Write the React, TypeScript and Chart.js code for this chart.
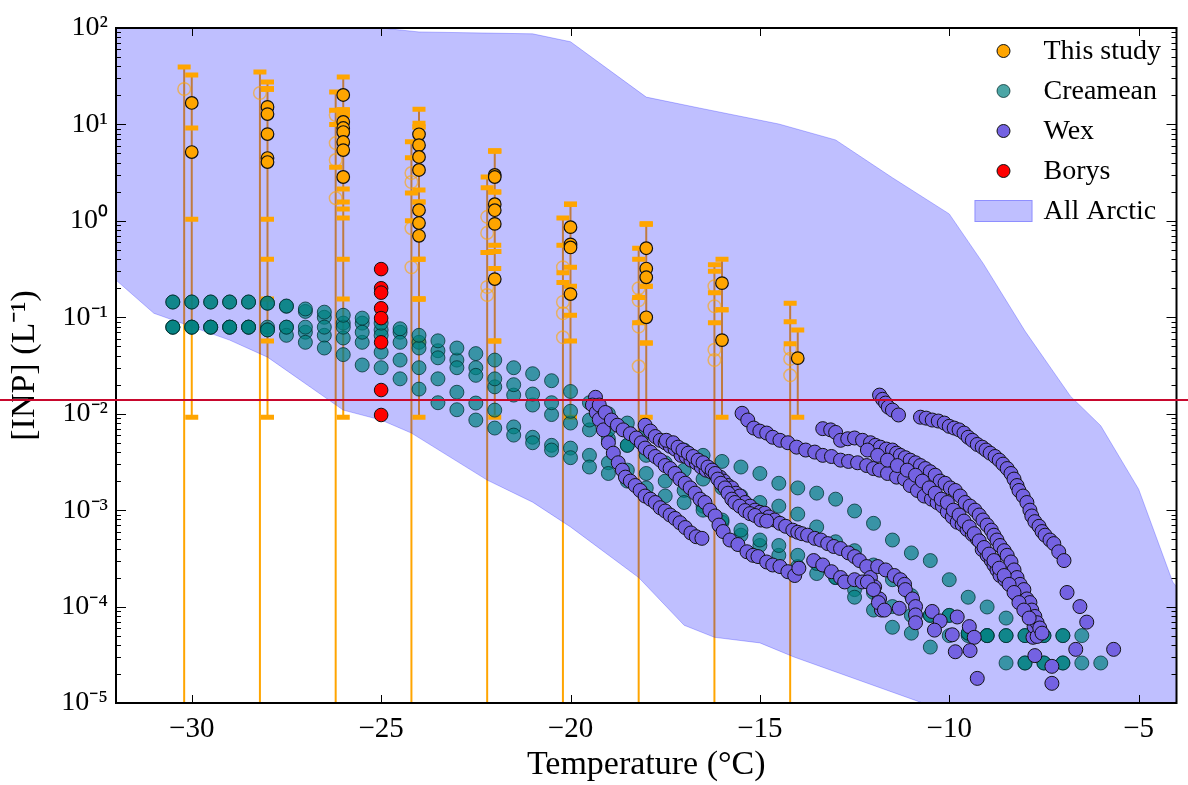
import React, { useEffect, useRef } from 'react';
import { Chart, registerables } from 'chart.js';

Chart.register(...registerables);

// ---------------- axes ----------------
const X_MIN = -32;
const X_MAX = -4;
const Y_MIN = 1e-5;
const Y_MAX = 1e2;
const xTickValues = [-30, -25, -20, -15, -10, -5];
const xTickLabels = ['\u221230', '\u221225', '\u221220', '\u221215', '\u221210', '\u22125'];
const yTickValues = [1e-5, 1e-4, 1e-3, 1e-2, 1e-1, 1, 10, 100];
const yTickLabels = ['10\u207B\u2075', '10\u207B\u2074', '10\u207B\u00B3', '10\u207B\u00B2', '10\u207B\u00B9', '10\u2070', '10\u00B9', '10\u00B2'];
const yMinorMultipliers = [2, 3, 4, 5, 6, 7, 8, 9];
const xTitle = 'Temperature (\u00B0C)';
const yTitle = '[INP] (L\u207B\u00B9)';
const redLineValue = 0.014;
const legendLabels = ['This study', 'Creamean', 'Wex', 'Borys', 'All Arctic'];

// ---------------- All Arctic envelope ----------------
const arcticUpperT = [-32, -25, -24, -21, -20, -18, -16.6, -14.5, -13, -11.5, -10, -9.1, -8, -6.8, -6, -5, -4.1, -4];
const arcticUpperV = [100, 100, 91, 87, 72, 19.2, 14.8, 10.1, 6.9, 2.8, 1.18, 0.36, 0.072, 0.0152, 0.0075, 0.00165, 0.00018, 0.00016];
const arcticLowerT = [-32, -31, -29, -28, -26, -25, -24.2, -22.2, -21, -20, -18.2, -17, -16.2, -15, -14.1, -10.7, -4];
const arcticLowerV = [0.243, 0.11, 0.058, 0.0386, 0.0109, 0.0086, 0.0063, 0.00205, 0.00121, 0.00067, 0.0002, 0.000064, 0.000048, 0.000042, 0.00003, 0.00001, 0.000001];

// ---------------- This study ----------------
const studyT = [-30, -30, -28, -28, -28, -28, -28, -26, -26, -26, -26, -26, -26, -26, -24, -24, -24, -24, -24, -24, -24, -22, -22, -22, -22, -22, -22, -20, -20, -20, -20, -18, -18, -18, -18, -16, -16, -14];
const studyV = [16.7, 5.17, 15.2, 12.8, 7.94, 4.48, 4.07, 20.2, 10.6, 9.18, 8.34, 6.57, 5.42, 2.85, 7.9, 6.1, 4.6, 3.37, 1.29, 0.95, 0.7, 2.99, 2.85, 1.49, 1.29, 0.93, 0.249, 0.86, 0.57, 0.53, 0.174, 0.52, 0.32, 0.26, 0.1, 0.226, 0.058, 0.0377];
const studyLo = [1.04, 0.0092, 1.04, 0.4, 0.155, 0.0566, 0.0092, 2.14, 1.57, 1.33, 1.07, 0.4, 0.155, 0.0092, 0.4, 0.155, 0.0566, 0.0092, 0.4, 0.155, 0.155, 0.56, 0.48, 0.32, 0.0566, 0.0092, 0.0566, 0.33, 0.105, 0.0566, 0.0092, 0.21, 0.054, 0.054, 0.0092, 0.12, 0.0092, 0.0092];
const studyHi = [32.5, 9.18, 27.5, 23.3, 23.3, 23.3, 23.3, 31, 14.1, 12.5, 12.5, 14.1, 12.5, 14.1, 14.4, 10.3, 9.4, 9.4, 2.09, 1.57, 1.57, 5.3, 5.3, 5.3, 1.99, 1.99, 0.48, 1.49, 1.49, 1.49, 0.21, 0.93, 0.93, 0.93, 0.21, 0.4, 0.12, 0.074];

// open symbols (lower error reaches zero)
const hollowT = [-30.2, -28.2, -26.2, -26.2, -26.2, -26.2, -24.2, -24.2, -24.2, -24.2, -22.2, -22.2, -22.2, -22.2, -20.2, -20.2, -20.2, -20.2, -18.2, -18.2, -18.2, -18.2, -16.2, -16.2, -16.2, -16.2, -14.2, -14.2, -14.2];
const hollowV = [23.3, 21.2, 12.5, 6.4, 4.27, 1.72, 3.13, 2.53, 0.84, 0.33, 1.1, 0.75, 0.206, 0.17, 0.33, 0.144, 0.11, 0.062, 0.2, 0.15, 0.08, 0.031, 0.21, 0.13, 0.046, 0.036, 0.047, 0.037, 0.025];
const hollowHi = [39.4, 35, 21.7, 14, 10, 3.6, 6.6, 4.5, 1.94, 1.0, 2.85, 2.2, 0.47, 0.47, 1.07, 0.56, 0.29, 0.23, 0.52, 0.4, 0.16, 0.088, 0.35, 0.3, 0.18, 0.088, 0.14, 0.09, 0.053];
const hollowLo = 1e-9; // effectively zero, below the axis

// ---------------- Borys ----------------
const borysT = [-25, -25, -25, -25, -25, -25, -25, -25];
const borysV = [0.316, 0.2, 0.18, 0.124, 0.098, 0.055, 0.0176, 0.0097];

// ---------------- Creamean ----------------
const creamean1 = [[-30.5, 0.144], [-30, 0.144], [-29.5, 0.144], [-29, 0.144], [-28.5, 0.144], [-28, 0.14], [-27.5, 0.131], [-27, 0.122], [-26.5, 0.113], [-26, 0.105], [-25.5, 0.098], [-25, 0.087], [-24.5, 0.076], [-24, 0.065], [-23.5, 0.057], [-23, 0.048], [-22.5, 0.042], [-22, 0.036], [-21.5, 0.03], [-21, 0.026], [-20.5, 0.022], [-20, 0.017], [-19.5, 0.013], [-19, 0.01], [-18.5, 0.008], [-18, 0.0064], [-17.5, 0.0052], [-17, 0.0042], [-16.5, 0.0037], [-16, 0.0032], [-15.5, 0.0028], [-15, 0.0024], [-14.5, 0.0019], [-14, 0.0017], [-13.5, 0.0015], [-13, 0.0013], [-12.5, 0.00098], [-12, 0.00073], [-11.5, 0.00049], [-11, 0.00036], [-10.5, 0.0003], [-10, 0.00019], [-9.5, 0.000125], [-9, 0.000099], [-8.5, 0.000076], [-8, 0.00005], [-7.5, 0.00005], [-7, 0.00005]];
const creamean2 = [[-30.5, 0.079], [-30, 0.079], [-29.5, 0.079], [-29, 0.079], [-28.5, 0.079], [-28, 0.074], [-27.5, 0.079], [-27, 0.079], [-26.5, 0.079], [-26, 0.079], [-25.5, 0.07], [-25, 0.065], [-24.5, 0.055], [-24, 0.048], [-23.5, 0.038], [-23, 0.03], [-22.5, 0.025], [-22, 0.023], [-21.5, 0.02], [-21, 0.016], [-20.5, 0.013], [-20, 0.0106], [-19.5, 0.0086], [-19, 0.0068], [-18.5, 0.0047], [-18, 0.0037], [-17.5, 0.0031], [-17, 0.0026], [-16.5, 0.0021], [-16, 0.0017], [-15.5, 0.0014], [-15, 0.0012], [-14.5, 0.0011], [-14, 0.00091], [-13.5, 0.00067], [-13, 0.00047], [-12.5, 0.00038], [-12, 0.00027], [-11.5, 0.00019], [-11, 0.00013], [-10.5, 0.000081], [-10, 0.000081], [-9.5, 0.000053], [-9, 0.00005], [-8.5, 0.00005], [-8, 0.000026], [-7.5, 0.000026], [-7, 0.000026]];
const creamean3 = [[-30.5, 0.079], [-30, 0.079], [-29.5, 0.079], [-29, 0.079], [-28.5, 0.079], [-28, 0.074], [-27.5, 0.065], [-27, 0.055], [-26.5, 0.048], [-26, 0.041], [-25.5, 0.032], [-25, 0.03], [-24.5, 0.023], [-24, 0.018], [-23.5, 0.013], [-23, 0.011], [-22.5, 0.0086], [-22, 0.0071], [-21.5, 0.006], [-21, 0.005], [-20.5, 0.0042], [-20, 0.0035], [-19.5, 0.0028], [-19, 0.0024], [-18.5, 0.002], [-18, 0.0017], [-17.5, 0.0014], [-17, 0.0012], [-16.5, 0.001], [-16, 0.00079], [-15.5, 0.00062], [-15, 0.00049], [-14.5, 0.00043], [-14, 0.00034], [-13.5, 0.00028], [-13, 0.0002], [-12.5, 0.000125], [-12, 0.000092], [-11.5, 0.000061], [-11, 0.000053], [-10.5, 0.000038], [-10, 0.00005], [-9.5, 0.000053], [-9, 0.00005], [-8.5, 0.000026], [-8, 0.000026], [-7.5, 0.000026], [-7, 0.000026], [-6.5, 0.000026], [-6, 0.000026]];
const creamean4 = [[-30.5, 0.079], [-30, 0.079], [-29.5, 0.079], [-29, 0.079], [-28.5, 0.079], [-28, 0.079], [-27.5, 0.079], [-27, 0.07], [-26.5, 0.065], [-26, 0.061], [-25.5, 0.055], [-25, 0.0435], [-24.5, 0.036], [-24, 0.03], [-23.5, 0.023], [-23, 0.0167], [-22.5, 0.0129], [-22, 0.0109], [-21.5, 0.0073], [-21, 0.0057], [-20.5, 0.0047], [-20, 0.0044], [-19.5, 0.0037], [-19, 0.0031], [-18.5, 0.0026], [-18, 0.0024], [-17.5, 0.002], [-17, 0.0016], [-16.5, 0.0011], [-16, 0.00075], [-15.5, 0.00055], [-15, 0.00043], [-14.5, 0.00034], [-14, 0.00026], [-13.5, 0.00022], [-13, 0.0002], [-12.5, 0.00015], [-12, 0.00014], [-11.5, 0.0001], [-11, 0.000081], [-10.5, 0.000081], [-10, 0.000081], [-9.5, 0.00005], [-9, 0.00005], [-8.5, 0.00005], [-8, 0.00005], [-7.5, 0.00005], [-7, 0.00005], [-6.5, 0.00005]];
const creamean5 = [[-30.5, 0.144], [-30, 0.144], [-29.5, 0.144], [-29, 0.144], [-28.5, 0.144], [-28, 0.14], [-27.5, 0.13], [-27, 0.115], [-26.5, 0.1], [-26, 0.087], [-25.5, 0.087], [-25, 0.074], [-24.5, 0.07], [-24, 0.055], [-23.5, 0.045], [-23, 0.036], [-22.5, 0.03], [-22, 0.019], [-21.5, 0.0156], [-21, 0.0123], [-20.5, 0.0098], [-20, 0.008], [-19.5, 0.0068], [-19, 0.0055], [-18.5, 0.0047]];

// ---------------- Wex ----------------
const wex1 = [[-19.34, 0.0148], [-19.42, 0.0123], [-19.32, 0.0103], [-19.24, 0.0087], [-19.13, 0.0068], [-19.0, 0.005], [-18.87, 0.0039], [-18.74, 0.0031], [-18.63, 0.0026], [-18.55, 0.0022], [-18.42, 0.002], [-18.29, 0.0018], [-18.16, 0.0016], [-18.03, 0.0014], [-17.89, 0.0013], [-17.76, 0.0012], [-17.63, 0.00106], [-17.5, 0.00098], [-17.37, 0.00089], [-17.24, 0.00082], [-17.11, 0.00074], [-16.97, 0.00066], [-16.82, 0.00058], [-16.68, 0.00053], [-16.53, 0.00051]];
const wex2 = [[-19.24, 0.0123], [-19.08, 0.0103], [-18.92, 0.0086], [-18.76, 0.0076], [-18.61, 0.0068], [-18.42, 0.0062], [-18.26, 0.0056], [-18.13, 0.005], [-18.03, 0.0044], [-17.89, 0.004], [-17.76, 0.0036], [-17.63, 0.0033], [-17.5, 0.0029], [-17.37, 0.0027], [-17.24, 0.0024], [-17.11, 0.0021], [-16.97, 0.0019], [-16.84, 0.0017], [-16.71, 0.0015], [-16.58, 0.0013], [-16.45, 0.0012], [-16.32, 0.001], [-16.18, 0.00087], [-16.08, 0.0007], [-15.97, 0.0006], [-15.79, 0.00049], [-15.58, 0.00044], [-15.34, 0.00037], [-15.18, 0.00034], [-15.05, 0.00033], [-14.82, 0.00029], [-14.66, 0.00027], [-14.47, 0.00026], [-14.26, 0.00023], [-14.08, 0.00021], [-13.97, 0.00025]];
const wex3 = [[-18.03, 0.0076], [-17.89, 0.0066], [-17.76, 0.0058], [-17.63, 0.0053], [-17.5, 0.005], [-17.37, 0.0046], [-17.24, 0.0043], [-17.08, 0.0037], [-16.95, 0.0036], [-16.82, 0.0033], [-16.68, 0.0031], [-16.55, 0.0028], [-16.42, 0.0026], [-16.29, 0.0025], [-16.16, 0.0023], [-16.05, 0.0022], [-15.95, 0.002], [-15.84, 0.0018], [-15.74, 0.0017], [-15.63, 0.0015], [-15.53, 0.0014], [-15.39, 0.0012], [-15.26, 0.0011], [-15.13, 0.001], [-15.0, 0.00095], [-14.87, 0.00093], [-14.76, 0.00085], [-14.61, 0.00079], [-14.47, 0.00073], [-14.32, 0.00068], [-14.13, 0.00062], [-14.0, 0.00059], [-13.89, 0.00057], [-13.74, 0.00055], [-13.55, 0.00051], [-13.39, 0.00049], [-13.21, 0.00045], [-13.05, 0.00042], [-12.87, 0.0004], [-12.66, 0.00036], [-12.5, 0.00033], [-12.37, 0.0003], [-12.18, 0.00026], [-12.08, 0.0002], [-11.97, 0.00016], [-11.84, 0.00012], [-11.79, 0.000092]];
const wex4 = [[-17.47, 0.0053], [-17.29, 0.005], [-17.16, 0.0045], [-17.03, 0.0042], [-16.89, 0.0039], [-16.76, 0.0036], [-16.63, 0.0033], [-16.5, 0.0031], [-16.37, 0.0028], [-16.26, 0.0026], [-16.18, 0.0024], [-16.11, 0.0021], [-16.03, 0.0019], [-15.92, 0.0017], [-15.84, 0.0015], [-15.74, 0.0013], [-15.66, 0.0012], [-15.53, 0.0011], [-15.39, 0.00099], [-15.26, 0.00092], [-15.13, 0.00088], [-14.97, 0.00079], [-14.82, 0.00077]];
const wex5 = [[-13.58, 0.0003], [-13.34, 0.00027], [-13.11, 0.00023], [-12.87, 0.0002], [-12.76, 0.00018], [-12.5, 0.00019], [-12.3, 0.00018], [-12.16, 0.00018], [-12.0, 0.00015], [-11.87, 0.00011], [-11.71, 0.000092], [-11.32, 0.000096]];
const wex6 = [[-11.89, 0.00026], [-11.68, 0.00024], [-11.45, 0.00021], [-11.29, 0.00019], [-11.18, 0.00017], [-11.16, 0.00015], [-10.97, 0.00012], [-10.89, 0.0001], [-10.89, 0.000082], [-10.89, 0.000068]];
const wex7 = [[-10.45, 0.000089], [-10.24, 0.000071], [-10.39, 0.000057], [-9.92, 0.000051], [-9.79, 0.000078], [-9.47, 0.000062], [-9.34, 0.000048], [-9.45, 0.000035], [-9.84, 0.000034], [-9.26, 0.000018]];
const wex8 = [[-7.87, 0.000077], [-7.79, 0.000048], [-7.74, 0.000031], [-7.29, 0.000024], [-7.29, 0.000016], [-6.66, 0.000036], [-5.66, 0.000036], [-6.89, 0.00014], [-6.55, 0.0001], [-6.37, 0.000069]];
const wex9 = [[-15.47, 0.0101], [-15.32, 0.0086], [-15.16, 0.0071], [-15.0, 0.0066], [-14.82, 0.0063], [-14.66, 0.0057], [-14.47, 0.0053], [-14.26, 0.005], [-14.03, 0.0045], [-13.79, 0.0042], [-13.55, 0.004], [-13.34, 0.0037], [-13.11, 0.0036], [-12.87, 0.0033], [-12.66, 0.0032], [-12.42, 0.0031], [-12.18, 0.0029], [-12.0, 0.0027], [-11.84, 0.0026], [-11.63, 0.0024], [-11.39, 0.0022], [-11.18, 0.0021], [-11.03, 0.0018], [-10.84, 0.0016], [-10.66, 0.0014], [-10.47, 0.0013], [-10.32, 0.0012], [-10.18, 0.0011], [-10.05, 0.00096], [-9.92, 0.00085], [-9.79, 0.00075], [-9.66, 0.00071], [-9.53, 0.00063], [-9.39, 0.00056], [-9.26, 0.0005], [-9.13, 0.00039], [-9.0, 0.00034], [-8.89, 0.0003], [-8.82, 0.00027], [-8.74, 0.00024], [-8.66, 0.00021], [-8.53, 0.00019], [-8.39, 0.00017], [-8.29, 0.00015], [-8.21, 0.00013], [-8.08, 0.00011], [-7.95, 0.000099], [-7.87, 0.000079], [-7.76, 0.000062], [-7.68, 0.000049]];
const wex10 = [[-13.34, 0.007], [-13.13, 0.0068], [-13.0, 0.0064], [-12.87, 0.0053], [-12.68, 0.0055], [-12.5, 0.0056], [-12.29, 0.0053], [-12.08, 0.005], [-11.95, 0.0047], [-11.82, 0.0045], [-11.66, 0.0043], [-11.5, 0.0042], [-11.39, 0.0039], [-11.29, 0.0037], [-11.16, 0.0035], [-11.03, 0.0033], [-10.89, 0.0031], [-10.76, 0.0029], [-10.63, 0.0027], [-10.5, 0.0025], [-10.37, 0.0023], [-10.24, 0.002], [-10.11, 0.0019], [-9.97, 0.0017], [-9.84, 0.0016], [-9.71, 0.0014], [-9.58, 0.0012], [-9.45, 0.0011], [-9.32, 0.001], [-9.21, 0.00089], [-9.11, 0.00079], [-9.0, 0.0007], [-8.89, 0.00062], [-8.82, 0.00055], [-8.74, 0.00049], [-8.66, 0.00043], [-8.55, 0.00038], [-8.47, 0.00034], [-8.37, 0.00029], [-8.29, 0.00024], [-8.21, 0.0002], [-8.13, 0.00017], [-8.03, 0.00015], [-7.95, 0.00012], [-7.87, 0.00011], [-7.82, 0.000092], [-7.74, 0.000079], [-7.68, 0.000068], [-7.61, 0.00006], [-7.55, 0.000053]];
const wex11 = [[-12.16, 0.0042], [-11.89, 0.0037], [-11.63, 0.0033], [-11.37, 0.0029], [-11.11, 0.0026], [-10.89, 0.0023], [-10.71, 0.002], [-10.53, 0.0017], [-10.37, 0.0015], [-10.21, 0.0013], [-10.05, 0.0012], [-9.89, 0.001], [-9.74, 0.00089], [-9.61, 0.00077], [-9.47, 0.00067], [-9.34, 0.00057], [-9.21, 0.00048], [-9.08, 0.00041], [-8.95, 0.00035], [-8.82, 0.0003], [-8.68, 0.00025], [-8.55, 0.00021], [-8.42, 0.00017], [-8.29, 0.00014], [-8.16, 0.00011], [-8.03, 0.000092], [-7.89, 0.000076]];
const wex12 = [[-11.84, 0.0156], [-11.76, 0.0141], [-11.68, 0.0129], [-11.61, 0.0117], [-11.5, 0.0109], [-11.34, 0.0097]];
const wex13 = [[-10.76, 0.0092], [-10.61, 0.009], [-10.45, 0.0086], [-10.29, 0.0084], [-10.13, 0.008], [-10.0, 0.0074], [-9.87, 0.0071], [-9.74, 0.0068], [-9.61, 0.0063], [-9.5, 0.0057], [-9.39, 0.0053], [-9.26, 0.0048], [-9.13, 0.0045], [-9.03, 0.0042], [-8.92, 0.0039], [-8.79, 0.0036], [-8.68, 0.0033], [-8.58, 0.003], [-8.47, 0.0027], [-8.37, 0.0024], [-8.29, 0.0021], [-8.21, 0.0018], [-8.16, 0.0016], [-8.05, 0.0014], [-7.95, 0.0012], [-7.87, 0.001], [-7.82, 0.00087], [-7.74, 0.00076], [-7.63, 0.00068], [-7.55, 0.0006], [-7.47, 0.00055], [-7.34, 0.00049], [-7.24, 0.00045], [-7.11, 0.00037], [-6.97, 0.0003]];

// ---------------- styles ----------------
const FONT = '"Liberation Serif", "Times New Roman", serif';
const ORANGE = '#ffa500';
const TEAL_FILL = 'rgba(0,128,128,0.7)';
const TEAL_EDGE = 'rgba(0,45,45,0.75)';
const WEX_FILL = 'rgb(116,98,226)';
const ARCTIC = 'rgba(0,0,255,0.25)';
const RED_LINE = 'rgb(200,8,45)';

const pairsToPoints = (pairs: number[][]) => pairs.map(([x, y]) => ({ x, y }));
const zip = (xs: number[], ys: number[]) => xs.map((x, i) => ({ x, y: ys[i] }));

function buildDatasets() {
  const errorSegments: any[] = [];
  studyT.forEach((t, i) => {
    errorSegments.push({ x: t, y: studyLo[i] }, { x: t, y: studyHi[i] }, { x: t, y: null });
  });
  hollowT.forEach((t, i) => {
    errorSegments.push({ x: t, y: hollowLo }, { x: t, y: hollowHi[i] }, { x: t, y: null });
  });
  const caps: any[] = [];
  studyT.forEach((t, i) => caps.push({ x: t, y: studyLo[i] }, { x: t, y: studyHi[i] }));
  hollowT.forEach((t, i) => caps.push({ x: t, y: hollowHi[i] }));

  const creameanSets = [creamean1, creamean2, creamean3, creamean4, creamean5].map((c) => ({
    label: 'Creamean',
    data: pairsToPoints(c),
    pointRadius: 7,
    pointBackgroundColor: TEAL_FILL,
    pointBorderColor: TEAL_EDGE,
    pointBorderWidth: 1,
    backgroundColor: TEAL_FILL,
    borderColor: TEAL_EDGE,
    order: 20,
  }));

  const wexAll = [wex1, wex2, wex3, wex4, wex5, wex6, wex7, wex8, wex9, wex10, wex11, wex12, wex13].flatMap(pairsToPoints);

  return [
    {
      label: 'All Arctic',
      data: zip(arcticUpperT, arcticUpperV),
      showLine: true,
      pointRadius: 0,
      borderWidth: 1,
      borderColor: ARCTIC,
      backgroundColor: ARCTIC,
      fill: '+1',
      order: 90,
    },
    {
      label: 'All Arctic lower',
      data: zip(arcticLowerT, arcticLowerV),
      showLine: true,
      pointRadius: 0,
      borderWidth: 1,
      borderColor: ARCTIC,
      backgroundColor: ARCTIC,
      fill: false,
      order: 89,
    },
    {
      label: 'error bars',
      data: errorSegments,
      showLine: true,
      spanGaps: false,
      pointRadius: 0,
      borderWidth: 2,
      borderColor: ORANGE,
      fill: false,
      order: 100,
    },
    {
      label: 'This study (open)',
      data: zip(hollowT, hollowV),
      pointRadius: 6.3,
      pointBackgroundColor: 'rgba(0,0,0,0)',
      pointBorderColor: 'rgba(255,165,0,0.6)',
      pointBorderWidth: 1.5,
      order: 50,
    },
    {
      label: 'caps',
      data: caps,
      pointStyle: 'line',
      pointRadius: 6.5,
      pointBorderWidth: 5,
      pointBorderColor: ORANGE,
      order: 45,
    },
    {
      label: 'This study',
      data: zip(studyT, studyV),
      pointRadius: 6.3,
      pointBackgroundColor: ORANGE,
      pointBorderColor: '#111',
      pointBorderWidth: 1.2,
      backgroundColor: ORANGE,
      borderColor: '#111',
      order: 40,
    },
    ...creameanSets,
    {
      label: 'Wex',
      data: wexAll,
      pointRadius: 7,
      pointBackgroundColor: WEX_FILL,
      pointBorderColor: '#111',
      pointBorderWidth: 1,
      backgroundColor: WEX_FILL,
      borderColor: '#111',
      order: 10,
    },
    {
      label: 'Borys',
      data: zip(borysT, borysV),
      pointRadius: 6.8,
      pointBackgroundColor: '#ff0000',
      pointBorderColor: '#111',
      pointBorderWidth: 1,
      backgroundColor: '#ff0000',
      borderColor: '#111',
      order: 5,
    },
  ];
}

const axesFramePlugin = {
  id: 'axesFrame',
  afterDatasetsDraw(chart: any) {
    const { ctx, chartArea: a } = chart;
    const xs = chart.scales.x;
    const ys = chart.scales.y;
    ctx.save();
    ctx.strokeStyle = '#000';
    ctx.lineWidth = 1;
    ctx.beginPath();
    xTickValues.forEach((v) => {
      const px = Math.round(xs.getPixelForValue(v)) + 0.5;
      ctx.moveTo(px, a.top);
      ctx.lineTo(px, a.top + 8);
      ctx.moveTo(px, a.bottom);
      ctx.lineTo(px, a.bottom - 8);
    });
    yTickValues.forEach((v, i) => {
      const py = Math.round(ys.getPixelForValue(v)) + 0.5;
      ctx.moveTo(a.left, py);
      ctx.lineTo(a.left + 10, py);
      ctx.moveTo(a.right, py);
      ctx.lineTo(a.right - 10, py);
      if (i < yTickValues.length - 1) {
        yMinorMultipliers.forEach((m) => {
          const pm = Math.round(ys.getPixelForValue(v * m)) + 0.5;
          ctx.moveTo(a.left, pm);
          ctx.lineTo(a.left + 5, pm);
          ctx.moveTo(a.right, pm);
          ctx.lineTo(a.right - 5, pm);
        });
      }
    });
    ctx.stroke();
    ctx.lineWidth = 2;
    ctx.strokeRect(a.left, a.top, a.right - a.left, a.bottom - a.top);
    ctx.restore();
  },
};

const legendPlugin = {
  id: 'insideLegend',
  afterDraw(chart: any) {
    const { ctx, chartArea: a } = chart;
    ctx.save();
    ctx.font = `28px ${FONT}`;
    ctx.textBaseline = 'middle';
    ctx.textAlign = 'left';
    legendLabels.forEach((label, i) => {
      const ds = chart.data.datasets.find((d: any) => d.label === label);
      const cy = a.top + 23 + i * 40;
      if (ds.fill) {
        ctx.fillStyle = ds.backgroundColor;
        ctx.fillRect(a.right - 202, cy - 11, 58, 22);
        ctx.strokeStyle = ds.borderColor;
        ctx.lineWidth = 1;
        ctx.strokeRect(a.right - 202 + 0.5, cy - 11 + 0.5, 57, 21);
      } else {
        ctx.beginPath();
        ctx.arc(a.right - 173, cy, 6.5, 0, Math.PI * 2);
        ctx.fillStyle = ds.pointBackgroundColor;
        ctx.fill();
        ctx.strokeStyle = ds.pointBorderColor;
        ctx.lineWidth = 1;
        ctx.stroke();
      }
      ctx.fillStyle = '#000';
      ctx.fillText(label, a.right - 133, cy + 1);
    });
    ctx.restore();
  },
};

const redLinePlugin = {
  id: 'redLine',
  afterDraw(chart: any) {
    const { ctx } = chart;
    const y = Math.round(chart.scales.y.getPixelForValue(redLineValue));
    ctx.save();
    ctx.strokeStyle = RED_LINE;
    ctx.lineWidth = 2;
    ctx.beginPath();
    ctx.moveTo(0, y);
    ctx.lineTo(chart.width, y);
    ctx.stroke();
    ctx.restore();
  },
};

export default function App() {
  const ref = useRef<HTMLCanvasElement>(null);

  useEffect(() => {
    const canvas = ref.current;
    if (!canvas) return;
    Chart.defaults.font.family = FONT;
    Chart.defaults.color = '#000';
    const chart = new Chart(canvas, {
      type: 'scatter',
      data: { datasets: buildDatasets() as any },
      options: {
        animation: false,
        responsive: false,
        devicePixelRatio: 1,
        events: [],
        layout: { padding: { top: 28, right: 8, bottom: 0, left: 0 } },
        plugins: {
          legend: { display: false },
          tooltip: { enabled: false },
        },
        scales: {
          x: {
            type: 'linear',
            min: X_MIN,
            max: X_MAX,
            grid: { display: false, drawTicks: false },
            border: { display: false },
            afterBuildTicks: (scale: any) => {
              scale.ticks = xTickValues.map((v) => ({ value: v }));
            },
            afterFit: (scale: any) => {
              scale.height = 82;
            },
            ticks: {
              autoSkip: false,
              maxRotation: 0,
              padding: 9,
              font: { size: 29, family: FONT },
              color: '#000',
              callback: (_v: any, i: number) => xTickLabels[i],
            },
            title: {
              display: true,
              text: xTitle,
              font: { size: 34, family: FONT },
              color: '#000',
              padding: { top: 0, bottom: 0 },
            },
          },
          y: {
            type: 'logarithmic',
            min: Y_MIN,
            max: Y_MAX,
            grid: { display: false, drawTicks: false },
            border: { display: false },
            afterBuildTicks: (scale: any) => {
              scale.ticks = yTickValues.map((v) => ({ value: v, major: true }));
            },
            afterFit: (scale: any) => {
              scale.width = 116;
            },
            ticks: {
              autoSkip: false,
              padding: 8,
              font: { size: 28, family: FONT },
              color: '#000',
              callback: (_v: any, i: number) => yTickLabels[i],
            },
            title: {
              display: true,
              text: yTitle,
              font: { size: 34, family: FONT },
              color: '#000',
              padding: { top: 5, bottom: 0 },
            },
          },
        },
      },
      plugins: [axesFramePlugin, legendPlugin, redLinePlugin],
    } as any);
    return () => chart.destroy();
  }, []);

  return (
    <div style={{ position: 'absolute', left: 0, top: 0, width: 1188, height: 785 }}>
      <canvas ref={ref} width={1188} height={785} style={{ display: 'block', width: 1188, height: 785 }} />
    </div>
  );
}
